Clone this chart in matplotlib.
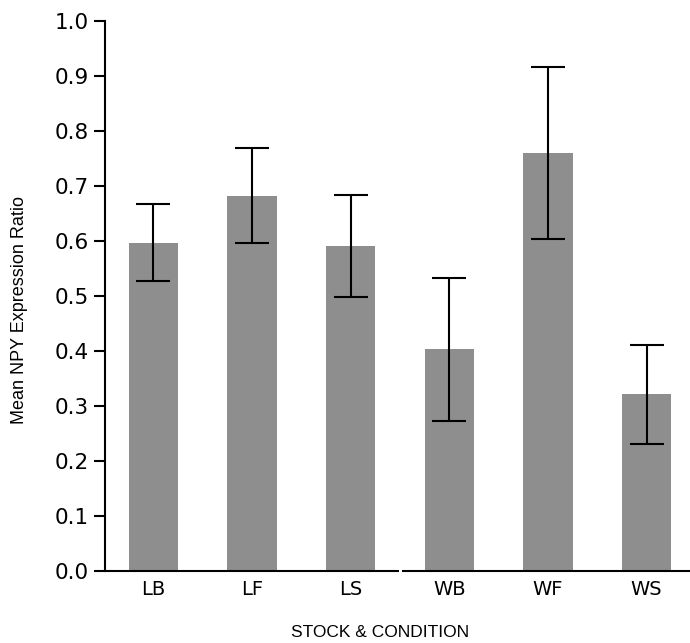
import numpy as np
import matplotlib
matplotlib.use("Agg")
import matplotlib.pyplot as plt

# groups and mean expression ratio
groups = ["LB", "LF", "LS", "WB", "WF", "WS"]
means = [0.596, 0.681, 0.590, 0.403, 0.759, 0.321]
err_low = [0.526, 0.595, 0.498, 0.273, 0.603, 0.231]
err_high = [0.667, 0.768, 0.683, 0.533, 0.916, 0.411]

yticks = [0.0, 0.1, 0.2, 0.3, 0.4, 0.5, 0.6, 0.7, 0.8, 0.9, 1.0]

x = np.arange(len(groups))
means_arr = np.array(means)
yerr = [means_arr - np.array(err_low), np.array(err_high) - means_arr]

fig = plt.figure(figsize=(6.9, 6.43), dpi=100)
ax = fig.add_axes([0.152, 0.1124, 0.848, 0.8554])

ax.bar(x, means, width=0.5, color="#8e8e8e", zorder=1)
ax.errorbar(x, means, yerr=yerr, fmt="none", ecolor="black", elinewidth=1.5,
            capsize=12, capthick=1.5, zorder=2)

ax.set_xlim(-0.49, 5.44)
ax.set_ylim(0, 1.0)
ax.set_yticks(yticks)
ax.set_yticklabels(["%.1f" % t for t in yticks], fontsize=15.5, family="DejaVu Sans")
ax.set_xticks(x)
ax.set_xticklabels(groups, fontsize=14, family="DejaVu Sans")

ax.tick_params(axis="y", length=8, width=1.5, pad=3.5)
ax.tick_params(axis="x", length=0, pad=7)

for s in ["top", "right"]:
    ax.spines[s].set_visible(False)
ax.spines["left"].set_linewidth(1.5)
# bottom axis has a small break between the L and W groups
ax.spines["bottom"].set_visible(False)
ax.plot([-0.49, 2.495], [0, 0], color="black", lw=1.5, clip_on=False, zorder=3,
        solid_capstyle="butt")
ax.plot([2.522, 5.44], [0, 0], color="black", lw=1.5, clip_on=False, zorder=3,
        solid_capstyle="butt")

ax.set_ylabel("Mean NPY Expression Ratio", fontsize=13, family="Liberation Sans")
ax.set_xlabel("STOCK & CONDITION", fontsize=12.5, family="Liberation Sans")
ax.yaxis.set_label_coords(-0.132, 0.474)
ax.xaxis.set_label_coords(0.47, -0.098)

fig.savefig("out.png", dpi=100)
